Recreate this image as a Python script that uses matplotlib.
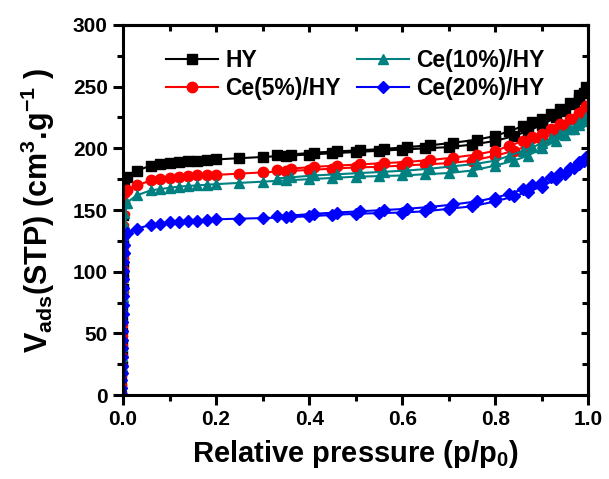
import matplotlib.pyplot as plt
from matplotlib.ticker import MultipleLocator

plt.rcParams['font.family'] = ['Liberation Sans', 'DejaVu Sans']
plt.rcParams['font.weight'] = 'bold'
plt.rcParams['mathtext.fontset'] = 'custom'
plt.rcParams['mathtext.rm'] = 'Liberation Sans:bold'
plt.rcParams['mathtext.it'] = 'Liberation Sans:bold'
plt.rcParams['mathtext.bf'] = 'Liberation Sans:bold'

# low pressure rise (micropore filling)
p_low = [0.0003, 0.0006, 0.0009, 0.0012, 0.0015, 0.0018, 0.0021, 0.0024, 0.0027, 0.003,
         0.0033, 0.0036, 0.0039, 0.0042, 0.0045, 0.0048, 0.0051, 0.0054, 0.0057, 0.006]
# adsorption branch
p_ads = [0.008, 0.03, 0.06, 0.08, 0.10, 0.12, 0.14, 0.16, 0.18, 0.20, 0.25, 0.30, 0.35,
         0.40, 0.45, 0.50, 0.55, 0.60, 0.65, 0.70, 0.75, 0.80, 0.84, 0.87, 0.90, 0.93,
         0.95, 0.97, 0.98, 0.99, 0.995]
# desorption branch
p_des = [0.98, 0.96, 0.94, 0.92, 0.90, 0.88, 0.86, 0.83, 0.80, 0.76, 0.71, 0.66, 0.61,
         0.56, 0.51, 0.46, 0.41, 0.36, 0.33]

hy_low = [1, 8, 16, 25, 34, 43, 52, 61, 70, 79, 88, 97, 106, 115, 124, 134, 144, 155,
          165, 173]
hy_ads = [177, 182, 186, 187, 188, 189, 189.5, 190, 190.5, 191, 192, 193, 194, 195, 196,
          197, 198, 199, 200, 201, 203, 206, 210, 214, 219, 225, 230, 236, 240, 245, 250]
hy_des = [243, 237, 232, 228, 224, 221, 218, 214, 210, 207, 204.5, 202.5, 201, 199.5, 198.5,
          197.5, 196.5, 195, 194.5]

ce5_low = [1, 8, 16, 24, 32, 40, 48, 57, 66, 75, 84, 93, 102, 111, 120, 129, 138, 147,
           156, 163]
ce5_ads = [166, 170, 174, 175, 176, 177, 177.5, 178, 178, 178.5, 179.5, 180.5, 181.5,
           182.5, 183.5, 184.5, 185, 186, 187, 188, 190, 194, 198, 202, 207, 213, 218,
           224, 227, 231, 234]
ce5_des = [229, 224, 220, 216, 212, 209, 206, 202, 198, 195, 192.5, 190.5, 189, 188, 187,
           186, 185, 183.5, 182.5]

ce10_low = [1, 7, 14, 22, 30, 38, 46, 54, 62, 70, 78, 86, 94, 102, 110, 119, 128, 137,
            146, 154]
ce10_ads = [156, 162, 166, 167, 168, 169, 169.5, 170, 170.5, 171, 172, 173, 174, 175,
            176, 177, 177.5, 178, 179, 180, 182, 186, 190, 194, 200, 206, 211, 216, 219,
            222, 225]
ce10_des = [221, 216, 212, 208, 204, 201, 198, 194, 190, 187.5, 185.5, 183.5, 182, 181,
            180, 179, 178, 176.5, 175.5]

ce20_low = [1, 6, 12, 18, 24, 31, 38, 45, 52, 59, 66, 73, 80, 87, 94, 101, 108, 115,
            122, 129]
ce20_ads = [131, 135, 138, 139, 140, 140.5, 141, 141.5, 142, 142.5, 143, 143.5, 144, 145,
            146, 147, 147.5, 148, 149, 151, 153, 157, 161, 165, 169, 175, 179, 184, 187,
            190, 193]
ce20_des = [189, 184, 180, 177, 173, 170, 167, 163, 160, 157, 154.5, 152.5, 151, 150,
            149, 148, 147, 145.5, 145]

labels = ['HY', 'Ce(5%)/HY', 'Ce(10%)/HY', 'Ce(20%)/HY']
colors = ['black', 'red', '#008080', 'blue']
markers = ['s', 'o', '^', 'D']
msizes = [6.5, 7.5, 7.5, 6.5]
series = [(hy_low, hy_ads, hy_des), (ce5_low, ce5_ads, ce5_des),
          (ce10_low, ce10_ads, ce10_des), (ce20_low, ce20_ads, ce20_des)]

fig = plt.figure(figsize=(6.09, 4.79), dpi=100)
ax = fig.add_axes([0.202, 0.175, 0.764, 0.773])

for (low, ads, des), lab, c, m, ms in zip(series, labels, colors, markers, msizes):
    # micropore filling drawn with small markers, then the two branches
    ax.plot(p_low, low, color=c, marker=m, markersize=4.5, lw=1.5)
    ax.plot([p_low[-1]] + p_ads + p_des, [low[-1]] + ads + des, color=c, marker=m,
            markersize=ms, lw=1.5, label=lab, markevery=range(1, len(ads) + len(des) + 1))

ax.set_xlim(0, 1.0)
ax.set_ylim(0, 300)
ax.xaxis.set_major_locator(MultipleLocator(0.2))
ax.xaxis.set_minor_locator(MultipleLocator(0.1))
ax.yaxis.set_major_locator(MultipleLocator(50))
ax.yaxis.set_minor_locator(MultipleLocator(25))
ax.xaxis.set_major_formatter(plt.FuncFormatter(lambda v, p: '%.1f' % v))

for s in ax.spines.values():
    s.set_linewidth(2.2)
ax.tick_params(which='both', width=2.2, labelsize=15, pad=4, direction='out',
               top=False, right=False)
ax.tick_params(which='major', length=7)
ax.tick_params(which='minor', length=4.5)

# top and right ticks point inward
ax2 = ax.secondary_xaxis('top')
ax2.xaxis.set_major_locator(MultipleLocator(0.2))
ax2.xaxis.set_minor_locator(MultipleLocator(0.1))
ax2.tick_params(which='both', direction='in', width=2.2, labeltop=False)
ax2.tick_params(which='major', length=5)
ax2.tick_params(which='minor', length=4)
ax3 = ax.secondary_yaxis('right')
ax3.yaxis.set_major_locator(MultipleLocator(50))
ax3.yaxis.set_minor_locator(MultipleLocator(25))
ax3.tick_params(which='both', direction='in', width=2.2, labelright=False)
ax3.tick_params(which='major', length=5)
ax3.tick_params(which='minor', length=4)
ax2.spines['top'].set_linewidth(2.2)
ax3.spines['right'].set_linewidth(2.2)

for t in ax.get_xticklabels() + ax.get_yticklabels():
    t.set_fontweight('bold')

ax.set_xlabel('Relative pressure (p/p$_0$)', fontsize=21, fontweight='bold', labelpad=6)
ax.set_ylabel('V$_{ads}$(STP) (cm$^3$.g$^{-1}$ )', fontsize=22, fontweight='bold',
              labelpad=11)

ax.legend(loc='upper left', ncol=2, frameon=False, fontsize=16.5, handlelength=2.3,
          columnspacing=0.7, handletextpad=0.3, labelspacing=0.2,
          bbox_to_anchor=(0.047, 0.99))

fig.savefig('out.png', dpi=100)
